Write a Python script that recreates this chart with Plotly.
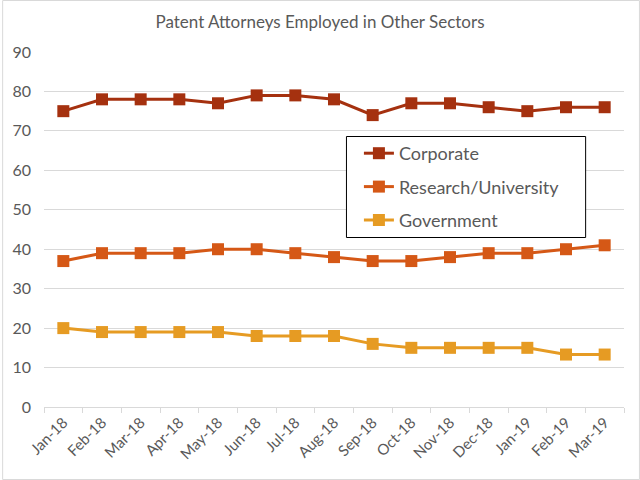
import plotly.graph_objects as go

months = ["Jan-18", "Feb-18", "Mar-18", "Apr-18", "May-18", "Jun-18", "Jul-18",
          "Aug-18", "Sep-18", "Oct-18", "Nov-18", "Dec-18", "Jan-19", "Feb-19", "Mar-19"]
corporate = [75, 78, 78, 78, 77, 79, 79, 78, 74, 77, 77, 76, 75, 76, 76]
research = [37, 39, 39, 39, 40, 40, 39, 38, 37, 37, 38, 39, 39, 40, 41]
government = [20, 19, 19, 19, 19, 18, 18, 18, 16, 15, 15, 15, 15, 13.3, 13.3]

series = [
    ("Corporate", corporate, "#A5310F"),
    ("Research/University", research, "#D55816"),
    ("Government", government, "#E69B23"),
]

fig = go.Figure()
for name, vals, col in series:
    fig.add_trace(go.Scatter(
        x=months, y=vals, name=name, mode="lines+markers",
        line=dict(color=col, width=3),
        marker=dict(symbol="square", size=12, color=col),
        legendgroup=name,
    ))

txt = "#595959"
FONT = "Lato, Carlito, Calibri, sans-serif"
L, R, T, B = 42, 16, 52, 73
pw = 640 - L - R
ph = 480 - T - B

def px(xp):
    return (xp - L) / pw

def py(yp):
    return (480 - B - yp) / ph

fig.update_layout(
    width=640, height=480,
    margin=dict(l=L, r=R, t=T, b=B, pad=0),
    paper_bgcolor="white", plot_bgcolor="white",
    font=dict(family=FONT, color=txt, size=16),
    title=dict(text="Patent Attorneys Employed in Other Sectors",
               x=0.5, xanchor="center", y=1 - 22 / 480, yanchor="middle",
               font=dict(size=17, color=txt, family=FONT)),
    xaxis=dict(
        type="category", range=[-0.5, len(months) - 0.5],
        showgrid=False, showline=True, linecolor="#D9D9D9", linewidth=1,
        ticks="outside", tickson="boundaries", ticklen=5, tickcolor="#D9D9D9",
        tickangle=-45, tickfont=dict(size=15, color=txt, family=FONT),
    ),
    yaxis=dict(
        range=[0, 90], dtick=10, showgrid=True, gridcolor="#D9D9D9", gridwidth=1,
        zeroline=False, showline=False, ticks="", tickfont=dict(size=16, color=txt, family=FONT),
        ticklabelstandoff=12,
    ),
    legend=dict(
        x=px(358), y=py(135), xanchor="left", yanchor="top",
        bgcolor="rgba(0,0,0,0)", borderwidth=0,
        font=dict(size=18, color=txt, family=FONT), tracegroupgap=7,
    ),
    showlegend=True,
)

# outer chart border
fig.add_shape(type="rect", xref="paper", yref="paper",
              x0=px(0.5), x1=px(639.5), y0=py(479.5), y1=py(0.5),
              line=dict(color="#D9D9D9", width=1), layer="below")
# legend box
fig.add_shape(type="rect", xref="paper", yref="paper",
              x0=px(345.5), x1=px(585.5), y0=py(237.5), y1=py(136.5),
              line=dict(color="black", width=1), fillcolor="white", layer="above")

fig.write_html("out.html", config={"displayModeBar": False},
               post_script="document.body.style.margin='0';document.body.style.padding='0';")
